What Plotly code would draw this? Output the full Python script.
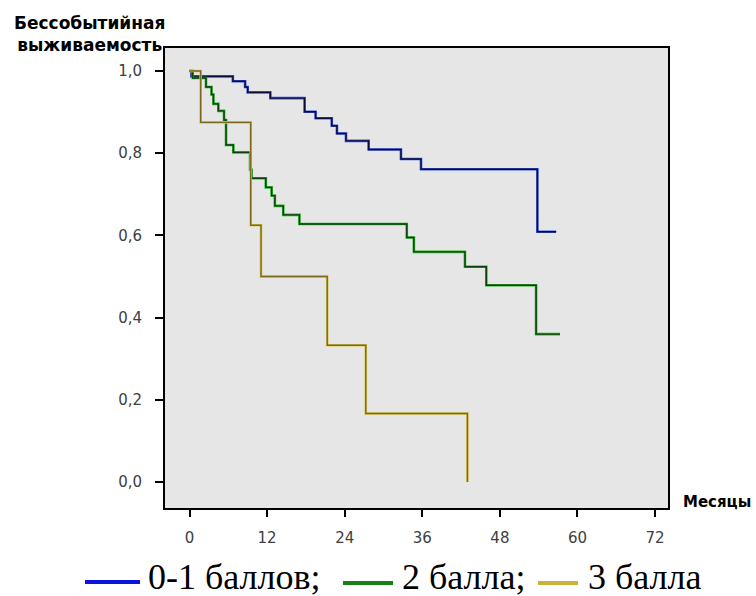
import plotly.graph_objects as go

# ---- data ----
blue_t = [0, 0.3, 6.7, 8.6, 9.0, 12.5, 17.8, 19.5, 22.0, 22.8, 24.2, 27.7, 32.7, 35.8, 53.8, 56.7]
blue_s = [1.0, 0.987, 0.975, 0.961, 0.948, 0.934, 0.901, 0.885, 0.867, 0.848, 0.830, 0.809, 0.786, 0.761, 0.609, 0.609]

green_t = [0, 0.5, 2.55, 3.4, 3.7, 4.46, 5.34, 5.65, 6.78, 9.36, 9.6, 11.8, 12.7, 13.2, 14.5, 17.0,
           33.6, 34.7, 42.6, 45.9, 53.6, 57.3]
green_s = [1.0, 0.983, 0.961, 0.943, 0.920, 0.903, 0.881, 0.820, 0.802, 0.760, 0.739, 0.717, 0.697, 0.672,
           0.650, 0.628, 0.595, 0.560, 0.524, 0.479, 0.360, 0.360]

yellow_t = [0, 1.73, 9.47, 11.06, 21.3, 27.26, 42.98]
yellow_s = [1.0, 0.875, 0.625, 0.5, 0.333, 0.167, 0.0]

x_ticks = [0, 12, 24, 36, 48, 60, 72]
y_ticks = [0.0, 0.2, 0.4, 0.6, 0.8, 1.0]
y_tick_labels = ["0,0", "0,2", "0,4", "0,6", "0,8", "1,0"]

legend_labels = ["0-1 баллов;", "2 балла;", "3 балла"]
y_title = "Бессобытийная<br>выживаемость"
x_title = "Месяцы"

# ---- layout geometry ----
W, H = 756, 596
L, R, T, B = 165, 668, 48, 508


def px2x(px):
    return (px - L) / (R - L)


def py2y(py):
    return (B - py) / (B - T)


series = [
    (blue_t, blue_s, "#3a55d8", "#0c0c3c"),
    (green_t, green_s, "#2fb02f", "#0a400a"),
    (yellow_t, yellow_s, "#d6c556", "#7c6a1a"),
]

fig = go.Figure()
for t, s, under, over in series:
    fig.add_trace(go.Scatter(x=t, y=s, mode="lines", line=dict(color=under, width=2.6, shape="hv"),
                             hoverinfo="skip", showlegend=False))
    fig.add_trace(go.Scatter(x=t, y=s, mode="lines", line=dict(color=over, width=1.4, shape="hv"),
                             showlegend=False))

fig.update_layout(
    width=W, height=H,
    margin=dict(l=L, r=W - R, t=T, b=H - B),
    paper_bgcolor="white",
    plot_bgcolor="#e6e6e6",
    showlegend=False,
)

fig.update_xaxes(
    range=[-3.79, 74.0], tickvals=x_ticks, ticktext=[str(v) for v in x_ticks],
    showgrid=False, zeroline=False,
    showline=True, linecolor="black", linewidth=1.5, mirror=True,
    ticks="outside", ticklen=7, tickwidth=2, tickcolor="black",
    tickfont=dict(family="DejaVu Sans", size=15, color="#404040"),
    ticklabelstandoff=8,
)
fig.update_yaxes(
    range=[-0.063, 1.056], tickvals=y_ticks, ticktext=y_tick_labels,
    showgrid=False, zeroline=False,
    showline=True, linecolor="black", linewidth=2, mirror=True,
    ticks="outside", ticklen=8, tickwidth=2, tickcolor="black",
    tickfont=dict(family="DejaVu Sans", size=15, color="#404040"),
    ticklabelstandoff=10,
)

# axis titles
fig.add_annotation(text=y_title, xref="paper", yref="paper", x=px2x(89), y=py2y(11),
                   xanchor="center", yanchor="top", align="center", showarrow=False,
                   font=dict(family="DejaVu Sans", size=17, color="black", weight="bold"))
fig.add_annotation(text=x_title, xref="paper", yref="paper", x=px2x(681), y=py2y(502),
                   xanchor="left", yanchor="middle", showarrow=False,
                   font=dict(family="DejaVu Sans", size=15, color="black", weight="bold"))

# custom legend
leg_lines = [(85, 140, 582, "#0a14e0"), (343, 393, 583, "#168016"), (538, 578, 583, "#c9b43a")]
leg_text_x = [146, 400, 586]
for (x0, x1, yy, col), tx, lab in zip(leg_lines, leg_text_x, legend_labels):
    fig.add_shape(type="line", xref="paper", yref="paper", x0=px2x(x0), x1=px2x(x1),
                  y0=py2y(yy), y1=py2y(yy), line=dict(color=col, width=4))
    fig.add_annotation(text=lab, xref="paper", yref="paper", x=px2x(tx), y=py2y(577),
                       xanchor="left", yanchor="middle", showarrow=False,
                       font=dict(family="Liberation Serif", size=36, color="black"))

fig.write_html("out.html")
